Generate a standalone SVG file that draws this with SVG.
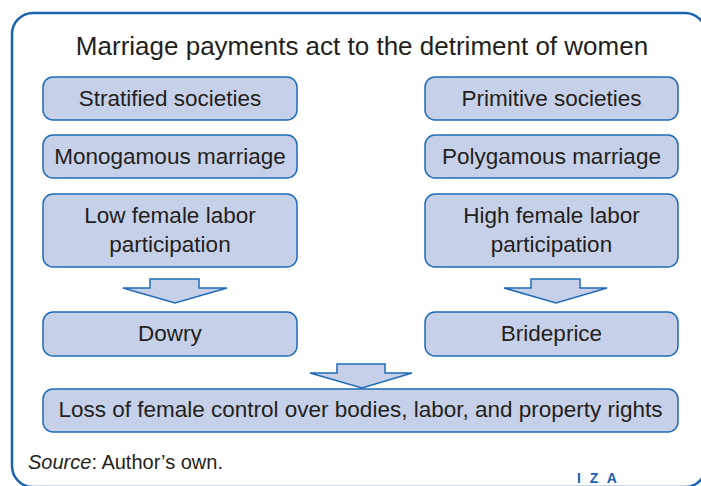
<svg xmlns="http://www.w3.org/2000/svg" width="701" height="486" viewBox="0 0 701 486">
<style>
.box{fill:#c6d0e8;stroke:#1f6bb5;stroke-width:1.5}
.arr{fill:#c6d0e8;stroke:#1f6bb5;stroke-width:1.5;stroke-linejoin:miter}
.t{font-family:"Liberation Sans",Arial,sans-serif;font-size:22.5px;fill:#231f20;text-anchor:middle}
</style>
<rect width="701" height="486" fill="#ffffff"/>
<rect x="12" y="13" width="694" height="474" rx="21" fill="none" stroke="#1a63b0" stroke-width="2.5"/>
<text x="362" y="55" font-family="'Liberation Sans',Arial,sans-serif" font-size="26" fill="#231f20" text-anchor="middle">Marriage payments act to the detriment of women</text>
<g id="stratified"><rect class="box" x="43" y="77" width="254" height="43" rx="10"/><text class="t" x="170" y="106">Stratified societies</text></g>
<g id="primitive"><rect class="box" x="425" y="77" width="253" height="43" rx="10"/><text class="t" x="551.5" y="106">Primitive societies</text></g>
<g id="monogamous"><rect class="box" x="43" y="135" width="254" height="43" rx="10"/><text class="t" x="170" y="164">Monogamous marriage</text></g>
<g id="polygamous"><rect class="box" x="425" y="135" width="253" height="43" rx="10"/><text class="t" x="551.5" y="164">Polygamous marriage</text></g>
<g id="lowlabor"><rect class="box" x="43" y="194" width="254" height="73" rx="10"/><text class="t" x="170" y="223">Low female labor</text><text class="t" x="170" y="252">participation</text></g>
<g id="highlabor"><rect class="box" x="425" y="194" width="253" height="73" rx="10"/><text class="t" x="551.5" y="223">High female labor</text><text class="t" x="551.5" y="252">participation</text></g>
<g id="dowry"><rect class="box" x="43" y="312" width="254" height="44" rx="10"/><text class="t" x="170" y="341">Dowry</text></g>
<g id="brideprice"><rect class="box" x="425" y="312" width="253" height="44" rx="10"/><text class="t" x="551.5" y="341">Brideprice</text></g>
<g id="loss"><rect class="box" x="43" y="389" width="635" height="43" rx="10"/><text class="t" x="360.5" y="417">Loss of female control over bodies, labor, and property rights</text></g>
<g id="connectors">
<polygon class="arr" points="150,279 199,279 199,288 227,288 175,303 123,288 150,288"/>
<polygon class="arr" points="531,279 580,279 580,288 607,288 556,303 504,288 531,288"/>
<polygon class="arr" points="337,364 385,364 385,373 412,373 362,388 310,373 337,373"/>
</g>
<text x="28" y="469" font-family="'Liberation Sans',Arial,sans-serif" font-size="20" fill="#231f20"><tspan font-style="italic">Source</tspan>: Author’s own.</text>
<text x="577" y="483" font-family="'Liberation Sans',Arial,sans-serif" font-size="14" font-weight="bold" letter-spacing="2.5" fill="#1a63b0">I Z A</text>
</svg>
